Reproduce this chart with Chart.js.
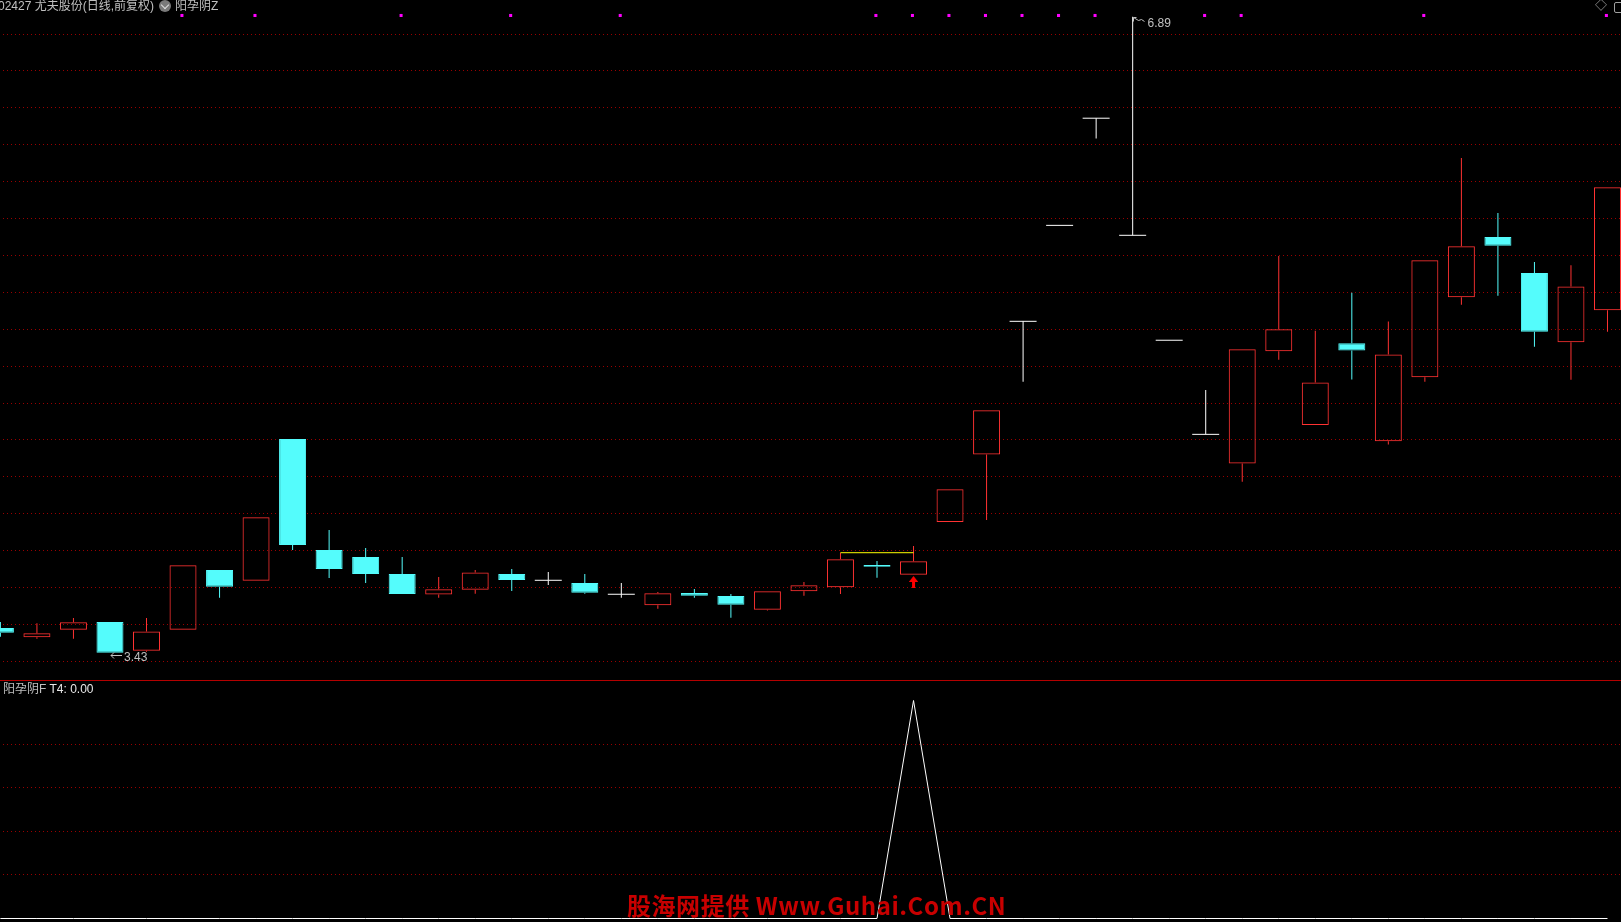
<!DOCTYPE html>
<html><head><meta charset="utf-8">
<script src="https://cdn.jsdelivr.net/npm/chart.js@4.4.1/dist/chart.umd.min.js"></script>
<style>
html,body{margin:0;padding:0;background:#000;overflow:hidden}
#wrap{position:relative;width:1621px;height:922px;background:#000;overflow:hidden}
canvas{position:absolute;left:0}
.t{position:absolute;white-space:nowrap;font-family:"Liberation Sans","Noto Sans CJK SC",sans-serif;font-size:12px;line-height:12px;color:#c0c0c0}
</style></head>
<body><div id="wrap">
<canvas id="cTop" width="1621" height="680" style="top:0;width:1621px;height:680px"></canvas>
<div style="position:absolute;left:0;top:680px;width:1621px;height:1px;background:#b40000"></div>
<canvas id="cBot" width="1621" height="241" style="top:681px;width:1621px;height:241px"></canvas>
<div class="t" style="left:-2px;top:0px">02427 尤夫股份(日线,前复权)</div>
<div style="position:absolute;left:159px;top:0px;width:12px;height:12px;border-radius:50%;background:#7a7a7a"></div>
<div style="position:absolute;left:162px;top:2px;width:5px;height:5px;border-right:1.5px solid #e0e0e0;border-bottom:1.5px solid #e0e0e0;transform:rotate(45deg)"></div>
<div class="t" style="left:175px;top:0px">阳孕阴Z</div>
<div class="t" style="left:1595px;top:0px;color:#a0a0a0">◇</div>
<div style="position:absolute;left:1614px;top:2px;width:8px;height:9px;border:1px solid #a0a0a0;border-radius:2px"></div>
<div class="t" style="left:3px;top:683px">阳孕阴F <span style="color:#e8e8e8">T4: 0.00</span></div>
<div style="position:absolute;left:627px;top:893px;font-family:'Noto Sans CJK SC',sans-serif;font-weight:bold;font-size:24px;line-height:24px;letter-spacing:0.55px;color:#c80000;white-space:nowrap">股海网提供 Www.Guhai.Com.CN</div>
</div>
<script>
// ---- data ----
const candleIndex = [0,1,2,3,4,5,6,7,8,9,10,11,12,13,14,15,16,17,18,19,20,21,22,23,24,25,26,27,28,29,30,31,32,33,34,35,36,37,38,39,40,41,42,43,44];
const opens  = [3.564,3.514,3.555,3.597,3.441,3.555,3.880,3.822,4.593,3.989,3.951,3.858,3.746,3.773,3.858,3.824,3.809,3.748,3.688,3.755,3.738,3.664,3.764,3.786,3.907,3.854,4.141,4.509,5.233,5.755,6.338,5.701,5.130,4.618,4.460,5.070,4.669,5.114,4.580,4.928,5.364,5.692,5.496,5.119,5.293];
const highs  = [3.597,3.590,3.619,3.597,3.619,3.906,3.880,4.167,4.593,4.098,4.000,3.951,3.842,3.880,3.885,3.869,3.858,3.809,3.760,3.777,3.749,3.764,3.815,3.974,3.929,4.011,4.319,4.749,5.233,5.755,6.338,6.890,5.130,4.859,5.081,5.589,5.181,5.389,5.232,5.565,6.121,5.822,5.556,5.538,5.962];
const lows   = [3.517,3.506,3.506,3.430,3.435,3.555,3.729,3.822,3.989,3.836,3.809,3.749,3.729,3.751,3.766,3.798,3.751,3.729,3.669,3.729,3.620,3.659,3.740,3.749,3.838,3.854,4.141,4.152,4.904,5.755,6.227,5.701,5.130,4.618,4.360,5.024,4.669,4.917,4.563,4.904,5.323,5.372,5.095,4.915,5.176];
const closes = [3.539,3.536,3.595,3.430,3.546,3.906,3.789,4.167,4.016,3.885,3.858,3.749,3.775,3.867,3.826,3.824,3.756,3.748,3.753,3.740,3.691,3.764,3.797,3.938,3.898,3.927,4.319,4.749,5.233,5.755,6.338,5.701,5.130,4.618,5.081,5.190,4.900,5.074,5.052,5.565,5.641,5.644,5.176,5.423,5.962];
const indicatorT4 = [0,0,0,0,0,0,0,0,0,0,0,0,0,0,0,0,0,0,0,0,0,0,0,0,0,1,0,0,0,0,0,0,0,0,0,0,0,0,0,0,0,0,0,0,0];
const topMarkIdx = [5,7,11,14,17,24,25,26,27,28,29,30,33,34,39,44];
const topMarkLevel = 6.897;
const arrowIdx = [25];
const arrowLevel = [3.815];
const yellowIdx = [23,25];
const yellowLevel = 3.974;
const priceGrid = [6.7934,6.5976,6.3963,6.1950,5.9937,5.7924,5.5910,5.3897,5.1884,4.9871,4.7858,4.5900,4.3887,4.1873,3.9860,3.7847,3.5834,3.3821];
const indGrid = [0.2,0.4,0.6,0.8];

// ---- styling ----
const RED='#ff3232', CYAN='#54fcfc', WHITE='#ffffff', GRID='#9a0000';
const dirOf = i => closes[i]>opens[i]?1:(closes[i]<opens[i]?-1:0);
const colorOf = i => dirOf(i)>0?RED:(dirOf(i)<0?CYAN:WHITE);

const upperWick = candleIndex.map(i=>{const t=Math.max(opens[i],closes[i]);return highs[i]>t?{x:i,y:[t,highs[i]]}:null;}).filter(Boolean);
const lowerWick = candleIndex.map(i=>{const b=Math.min(opens[i],closes[i]);return lows[i]<b?{x:i,y:[lows[i],b]}:null;}).filter(Boolean);
const bodies = candleIndex.filter(i=>dirOf(i)!==0).map(i=>({x:i,y:[opens[i],closes[i]]}));
const flats = candleIndex.filter(i=>dirOf(i)===0).map(i=>({x:i,y:opens[i]}));

function makeArrow(){const c=document.createElement('canvas');c.width=9;c.height=12;const g=c.getContext('2d');g.fillStyle='#ff0000';g.beginPath();g.moveTo(4.5,0);g.lineTo(9.2,6);g.lineTo(-0.2,6);g.closePath();g.fill();g.fillRect(3,6,3,6);return c;}

const dotGrid = {
  id:'dotgrid',
  beforeDatasetsDraw(chart,args,opts){
    const ctx=chart.ctx, y=chart.scales.y, a=chart.chartArea;
    ctx.save();ctx.strokeStyle=opts.color;ctx.lineWidth=1;ctx.setLineDash([1,3]);
    for(const v of opts.values){const py=Math.floor(y.getPixelForValue(v))+0.5;ctx.beginPath();ctx.moveTo(a.left+3,py);ctx.lineTo(a.right,py);ctx.stroke();}
    ctx.restore();
  }
};
const extremes = {
  id:'extremes',
  afterDatasetsDraw(chart){
    const ctx=chart.ctx, xs=chart.scales.x, ys=chart.scales.y;
    let hi=0, lo=0;
    candleIndex.forEach(i=>{if(highs[i]>highs[hi])hi=i;if(lows[i]<lows[lo])lo=i;});
    ctx.save();ctx.font='12px "Liberation Sans", sans-serif';ctx.fillStyle='#c0c0c0';ctx.strokeStyle='#c0c0c0';ctx.lineWidth=1;ctx.textBaseline='top';
    // low label
    let x=Math.round(xs.getPixelForValue(lo)), y=Math.round(ys.getPixelForValue(lows[lo]))+2.5;
    ctx.beginPath();ctx.moveTo(x+1,y);ctx.lineTo(x+12,y);ctx.moveTo(x+1,y);ctx.lineTo(x+4,y-3);ctx.moveTo(x+1,y);ctx.lineTo(x+4,y+3);ctx.stroke();
    ctx.fillText(lows[lo].toFixed(2),x+14,y-4);
    // high label
    x=Math.round(xs.getPixelForValue(hi))+0.5; y=Math.round(ys.getPixelForValue(highs[hi]))+0.5;
    ctx.beginPath();ctx.moveTo(x,y);ctx.lineTo(x+3,y);ctx.moveTo(x,y);ctx.lineTo(x,y+4);ctx.moveTo(x,y);ctx.lineTo(x+5,y+3);ctx.lineTo(x+8,y+2);ctx.lineTo(x+11,y+4);ctx.stroke();
    ctx.fillText(highs[hi].toFixed(2),x+14,y);
    ctx.restore();
  }
};

const xScale = {type:'linear',min:-0.01095,max:44.370,display:false,offset:false};
const barCommon = {type:'bar',grouped:false,inflateAmount:0,borderSkipped:false};

new Chart(document.getElementById('cTop'),{
  type:'bar',
  data:{datasets:[
    {type:'scatter',data:arrowIdx.map((i,k)=>({x:i,y:arrowLevel[k]})),pointStyle:makeArrow(),pointRadius:6,order:0},
    {type:'scatter',data:topMarkIdx.map(i=>({x:i-0.03,y:topMarkLevel})),pointStyle:'rect',pointRadius:2.15,pointBorderWidth:0,backgroundColor:'#ff00ff',borderColor:'#ff00ff',order:1},
    {type:'line',data:yellowIdx.map(i=>({x:i,y:yellowLevel})),borderColor:'#ffff00',borderWidth:1,pointRadius:0,order:2},
    {type:'scatter',data:flats,pointStyle:'line',pointRadius:13.5,borderColor:WHITE,pointBorderColor:WHITE,pointBorderWidth:1,order:3},
    Object.assign({},barCommon,{data:bodies,barThickness:27,borderWidth:1,
      backgroundColor:c=>dirOf(c.raw.x)>0?'rgba(0,0,0,0)':CYAN,borderColor:c=>colorOf(c.raw.x),order:4}),
    Object.assign({},barCommon,{data:upperWick,barThickness:1,borderWidth:0,backgroundColor:c=>colorOf(c.raw.x),order:5}),
    Object.assign({},barCommon,{data:lowerWick,barThickness:1,borderWidth:0,backgroundColor:c=>colorOf(c.raw.x),order:5})
  ]},
  options:{responsive:false,animation:false,devicePixelRatio:1,layout:{padding:0,autoPadding:false},
    events:[],
    scales:{x:xScale,y:{type:'linear',min:3.28147,max:6.9812,display:false}},
    plugins:{legend:{display:false},tooltip:{enabled:false},dotgrid:{values:priceGrid,color:GRID}}},
  plugins:[dotGrid,extremes]
});

new Chart(document.getElementById('cBot'),{
  type:'line',
  data:{datasets:[{data:candleIndex.map(i=>({x:i,y:indicatorT4[i]})),borderColor:'#ffffff',borderWidth:1,pointRadius:0,tension:0}]},
  options:{responsive:false,animation:false,devicePixelRatio:1,layout:{padding:0,autoPadding:false},events:[],
    scales:{x:xScale,y:{type:'linear',min:-0.016055,max:1.08945,display:false}},
    plugins:{legend:{display:false},tooltip:{enabled:false},dotgrid:{values:indGrid,color:GRID}}},
  plugins:[dotGrid]
});
</script>
</body></html>
